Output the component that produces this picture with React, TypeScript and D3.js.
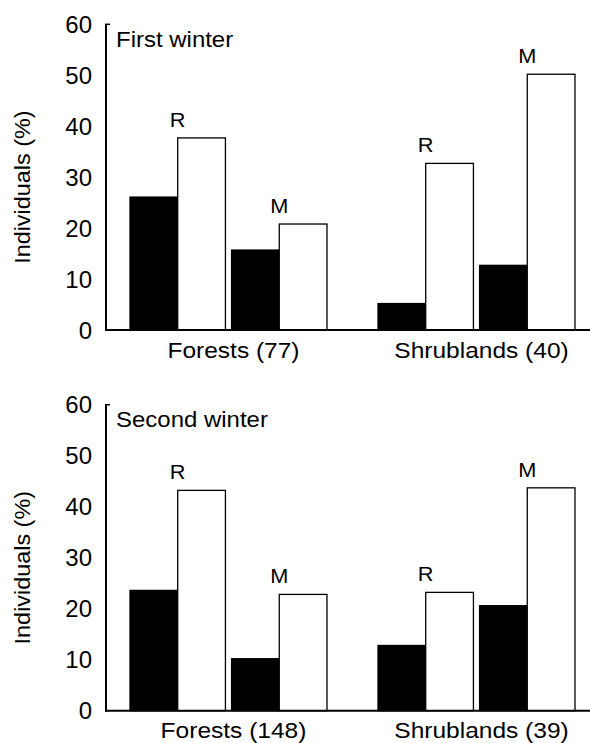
import React from "react";
import * as d3 from "d3";

const categories = ["Forests", "Shrublands"];
const groups = ["R", "M"];
const yTicks = [0, 10, 20, 30, 40, 50, 60];

const panelTitles = ["First winter", "Second winter"];
const categoryLabels = [
  ["Forests (77)", "Shrublands (40)"],
  ["Forests (148)", "Shrublands (39)"],
];

// values per panel: [Forests, Shrublands]
const firstRFilled = [26.1, 5.2];
const firstROpen = [37.7, 32.7];
const firstMFilled = [15.7, 12.7];
const firstMOpen = [20.8, 50.2];

const secondRFilled = [23.6, 12.8];
const secondROpen = [43.2, 23.2];
const secondMFilled = [10.2, 20.6];
const secondMOpen = [22.8, 43.7];

const panels = [
  { filled: { R: firstRFilled, M: firstMFilled }, open: { R: firstROpen, M: firstMOpen } },
  { filled: { R: secondRFilled, M: secondMFilled }, open: { R: secondROpen, M: secondMOpen } },
];

const W = 590;
const H = 743;
const FONT = "'Liberation Sans', Arial, Helvetica, sans-serif";

const axisX = 106;
const xRight = 590;
const panelTop = [24.3, 404.7];
const panelBottom = [330, 710.7];

const x0 = d3
  .scaleBand<string>()
  .domain(categories)
  .range([axisX, xRight])
  .paddingInner(0.2056)
  .paddingOuter(0.0786)
  .align(0.615);

const x1 = d3.scaleBand<string>().domain(groups).range([0, x0.bandwidth()]).paddingInner(0.06).paddingOuter(0);

function T({
  x,
  y,
  size,
  anchor = "start",
  sx = 1.09,
  rotate = 0,
  dy,
  children,
}: {
  x: number;
  y: number;
  size: number;
  anchor?: string;
  sx?: number;
  rotate?: number;
  dy?: string;
  children: React.ReactNode;
}) {
  return (
    <text
      transform={`translate(${x},${y}) rotate(${rotate}) scale(${sx},1)`}
      textAnchor={anchor}
      dy={dy}
      fontSize={size}
      fontFamily={FONT}
      fill="#000"
    >
      {children}
    </text>
  );
}

function Panel({ idx }: { idx: number }) {
  const y = d3.scaleLinear().domain([0, 60]).range([panelBottom[idx], panelTop[idx]]);
  const p = panels[idx];
  const bw = x1.bandwidth() / 2;
  const yMid = (panelBottom[idx] + panelTop[idx]) / 2 + 10;
  return (
    <g>
      {yTicks.map((t) => (
        <T key={t} x={92} y={y(t)} dy="0.36em" anchor="end" size={24} sx={1.0}>
          {t}
        </T>
      ))}
      <T x={30} y={yMid} rotate={-90} anchor="middle" size={22.5} sx={1.04}>
        Individuals (%)
      </T>
      <T x={116} y={panelTop[idx] + 22.4} size={22}>
        {panelTitles[idx]}
      </T>
      {categories.map((c, ci) =>
        groups.map((g) => {
          const gx = (x0(c) as number) + (x1(g) as number);
          const vf = (p.filled as any)[g][ci];
          const vo = (p.open as any)[g][ci];
          const top = Math.max(vf, vo);
          return (
            <g key={c + g}>
              <rect x={gx} y={y(vf)} width={bw} height={y(0) - y(vf)} fill="#000" stroke="#000" strokeWidth={1.2} />
              <rect x={gx + bw} y={y(vo)} width={bw} height={y(0) - y(vo)} fill="#fff" stroke="#000" strokeWidth={1.3} />
              <T x={gx + x1.bandwidth() / 2} y={y(top) - 11} anchor="middle" size={20.5} sx={1.06}>
                {g}
              </T>
            </g>
          );
        })
      )}
      <line x1={axisX} x2={axisX} y1={panelTop[idx]} y2={panelBottom[idx] + 1} stroke="#000" strokeWidth={2} />
      <line x1={axisX - 1} x2={axisX + 4} y1={panelTop[idx]} y2={panelTop[idx]} stroke="#000" strokeWidth={1.5} />
      <line x1={axisX - 1} x2={xRight} y1={panelBottom[idx]} y2={panelBottom[idx]} stroke="#000" strokeWidth={2} />
      {categories.map((c, ci) => (
        <T
          key={c}
          x={(x0(c) as number) + x0.bandwidth() / 2 + 5}
          y={panelBottom[idx] + 27.5}
          anchor="middle"
          size={22.5}
        >
          {categoryLabels[idx][ci]}
        </T>
      ))}
    </g>
  );
}

export default function App() {
  return (
    <svg
      width={W}
      height={H}
      viewBox={`0 0 ${W} ${H}`}
      style={{ position: "absolute", left: 0, top: 0, background: "#fff" }}
    >
      <rect x={0} y={0} width={W} height={H} fill="#fff" />
      <Panel idx={0} />
      <Panel idx={1} />
    </svg>
  );
}
